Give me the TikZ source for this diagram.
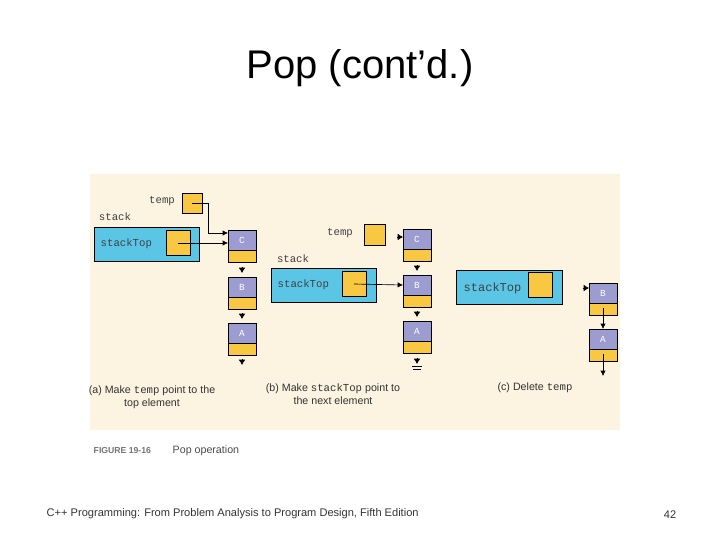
\documentclass[tikz,border=0pt]{standalone}
\usepackage{fontspec}
\setmainfont{Liberation Sans}
\setmonofont{Liberation Mono}
\usetikzlibrary{arrows.meta}
\definecolor{cy}{HTML}{5BC5E6}
\definecolor{yl}{HTML}{F9C842}
\definecolor{pu}{HTML}{9C9CD0}
\definecolor{cr}{HTML}{FCF3E1}
\begin{document}
\begin{tikzpicture}[x=0.75pt,y=-0.75pt,
  cyanbox/.style={fill=cy,draw=black,line width=0.4pt},
  ybox/.style={fill=yl,draw=black,line width=0.4pt},
  pbox/.style={fill=pu,draw=black,line width=0.4pt},
  mono/.style={font=\ttfamily\fontsize{8}{8}\selectfont,text=black!75},
  lett/.style={text=white,font=\ttfamily\fontsize{7}{7}\selectfont},
  capt/.style={font=\fontsize{8}{10}\selectfont,align=center,text=black!80},
  ptr/.style={-{Latex[length=4pt,width=4pt]},line width=0.5pt},
  tri/.style={-{Latex[length=4pt,width=5pt]},line width=0.5pt}]
\useasboundingbox (0,0) rectangle (720,540);
\node (title) at (360,68) {\fontsize{30}{30}\selectfont Pop (cont'd.)};
\fill[cr] (90,174) rectangle (620,430);
\tikzset{elem/.pic={
  \path[pbox] (0,0) rectangle (28,20);
  \path[ybox] (0,20) rectangle (28,32);
}}
% ---- panel a
\node[mono] (tempa) at (162,201) {temp};
\node[ybox,minimum width=15pt,minimum height=15pt,inner sep=0] (tba) at (192,203) {};
\node[mono] (stacka) at (115,217) {stack};
\path[cyanbox] (94,227) rectangle (199,261);
\node[mono,anchor=west] (sta) at (96,244) {stackTop};
\node[ybox,minimum width=18pt,minimum height=19pt,inner sep=0] (stba) at (178,243) {};
\pic at (228,230) {elem}; \node[lett] (Ca) at (242,240) {C};
\pic at (228,277) {elem}; \node[lett] (Ba) at (242,287) {B};
\pic at (228,323) {elem}; \node[lett] (Aa) at (242,333) {A};
\coordinate (ca1) at (208,203); \coordinate (ca2) at (208,233); \coordinate (ca3) at (228,233);
\draw[ptr] (tba.center) -- (ca1) -- (ca2) -- (ca3);
\coordinate (ca4) at (228,243);
\draw[ptr] (stba.center) -- (ca4);
\foreach \y in {267,313,359}{\draw[tri] (242,\y) -- (242,\y+6);}
\node[capt] (capa) at (152,397) {(a) Make {\ttfamily temp} point to the\\top element};
% ---- panel b
\node[mono] (tempb) at (340,233) {temp};
\node[ybox,minimum width=15.5pt,minimum height=16pt,inner sep=0] (tbb) at (374.5,235) {};
\pic at (403,229) {elem}; \node[lett] (Cb) at (417,239) {C};
\pic at (403,275) {elem}; \node[lett] (Bb) at (417,285) {B};
\pic at (403,321) {elem}; \node[lett] (Ab) at (417,331) {A};
\node[mono] (stackb) at (293,259) {stack};
\path[cyanbox] (271,268) rectangle (376,302);
\node[mono,anchor=west] (stb) at (273,285) {stackTop};
\node[ybox,minimum width=18pt,minimum height=19pt,inner sep=0] (stbb) at (354,284) {};
\coordinate (cb1) at (403,285);
\draw[ptr] (stbb.center) -- (cb1);
\draw[tri] (397,237) -- (403,237);
\foreach \y in {265,311,358}{\draw[tri] (417,\y) -- (417,\y+6);}
\draw[line width=0.5pt] (412,366.5) -- (422,366.5) (413,369.5) -- (421,369.5);
\node[capt] (capb) at (333,394) {(b) Make {\ttfamily stackTop} point to\\the next element};
% ---- panel c
\path[cyanbox] (456,270) rectangle (562,304);
\node[mono,anchor=west,font=\ttfamily\fontsize{9}{9}\selectfont] (stc) at (459,288) {stackTop};
\node[ybox,minimum width=18pt,minimum height=19pt,inner sep=0] (stbc) at (540,285) {};
\pic at (589,283) {elem}; \node[lett] (Bc) at (603,293) {B};
\pic at (589,329) {elem}; \node[lett] (Ac) at (603,339) {A};
\draw[tri] (583,288) -- (589,288);
\coordinate (bc1) at (603,308); \coordinate (bc2) at (603,329);
\draw[ptr] (bc1) -- (bc2);
\coordinate (ac1) at (603,354); \coordinate (ac2) at (603,376);
\draw[ptr] (ac1) -- (ac2);
\node[capt] (capc) at (535,388) {(c) Delete {\ttfamily temp}};
% ---- figure caption
\node[anchor=west,font=\bfseries\fontsize{6.5}{7}\selectfont,text=black!55] (fig) at (89,451) {FIGURE 19-16};
\node[anchor=west,font=\fontsize{8}{9}\selectfont,text=black!70] (figt) at (168,451) {Pop operation};
% footer
\node[anchor=west,font=\fontsize{8.3}{9}\selectfont,text=black!80] (foot) at (42,514) {C++ Programming: From Problem Analysis to Program Design, Fifth Edition};
\node[font=\fontsize{8.3}{9}\selectfont,text=black!80] (pg) at (670,515) {42};
\end{tikzpicture}
\end{document}
